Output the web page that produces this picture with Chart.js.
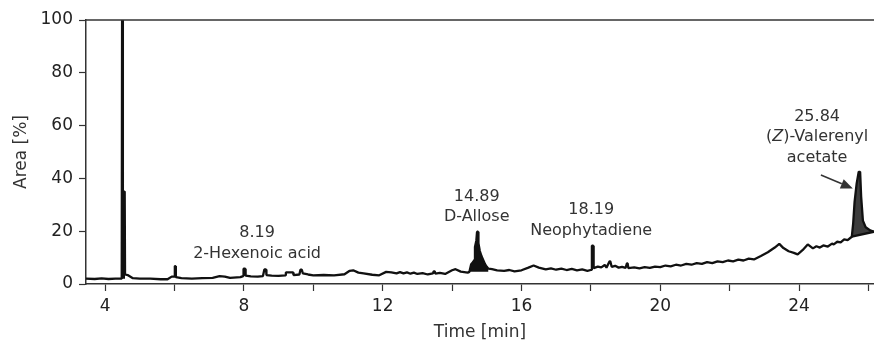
<!DOCTYPE html>
<html>
<head>
<meta charset="utf-8">
<script src="https://cdn.jsdelivr.net/npm/chart.js@4"></script>
<style>
  html, body { margin: 0; padding: 0; background: #fff; }
  #wrap { width: 874px; height: 344px; position: relative; }
</style>
</head>
<body>
<div id="wrap"><canvas id="chromChart"></canvas></div>
<script>
// chromatogram trace
const traceTime = [
  3.45, 3.7, 3.9, 4.1, 4.3, 4.46, 4.48, 4.49, 4.51, 4.515, 4.565, 4.575, 4.65, 4.8, 5.0, 5.3, 5.6, 5.8,
  5.92, 6.0, 6.01, 6.03, 6.04, 6.2, 6.5, 6.8, 7.1, 7.3, 7.45, 7.6, 7.9, 7.98, 7.99, 8.04, 8.05, 8.2,
  8.4, 8.55, 8.59, 8.64, 8.65, 8.8, 9.0, 9.2, 9.21, 9.42, 9.43, 9.6, 9.63, 9.67, 9.7, 9.85, 10.0,
  10.3, 10.6, 10.9, 11.05, 11.15, 11.3, 11.45, 11.7, 11.9, 12.1, 12.25, 12.4, 12.5, 12.6, 12.7, 12.8,
  12.9, 13.0, 13.15, 13.3, 13.45, 13.47, 13.5, 13.52, 13.65, 13.8, 14.0, 14.1, 14.25, 14.45,
  14.5, 14.55, 14.6, 14.64, 14.66, 14.7, 14.72, 14.75, 14.76, 14.8, 14.85, 14.9, 14.95, 15.0, 15.05,
  15.15, 15.3, 15.5, 15.65, 15.8, 16.0, 16.2, 16.35, 16.5, 16.7, 16.85, 17.0, 17.15, 17.3, 17.45,
  17.6, 17.75, 17.9, 18.02, 18.03, 18.07, 18.08, 18.2, 18.3, 18.4, 18.45, 18.54, 18.56, 18.6, 18.7,
  18.8, 18.9, 19.0, 19.04, 19.06, 19.08, 19.25, 19.4, 19.55, 19.7, 19.85,
  20.0, 20.15, 20.3, 20.45, 20.6, 20.75, 20.9, 21.05, 21.2, 21.35, 21.5, 21.65, 21.8, 21.95, 22.1,
  22.25, 22.4, 22.55, 22.7, 22.9, 23.1, 23.3, 23.43, 23.55, 23.7, 23.85, 23.96, 24.1, 24.25, 24.4,
  24.5, 24.6, 24.7, 24.83, 24.95, 25.0, 25.1, 25.2, 25.3, 25.4, 25.52,
  25.56, 25.6, 25.66, 25.72, 25.76, 25.79, 25.84, 25.92, 26.05, 26.16
];
const traceArea = [
  2.0, 1.9, 2.1, 1.9, 2.0, 2.0, 2.3, 100, 100, 35, 35, 3.6, 3.4, 2.2, 2.0, 2.0, 1.8, 1.8,
  2.8, 2.8, 6.8, 6.8, 2.6, 2.2, 2.0, 2.2, 2.3, 3.0, 2.8, 2.3, 2.6, 3.0, 5.8, 5.8, 3.2, 2.9,
  2.8, 3.0, 5.5, 5.5, 3.4, 3.2, 3.1, 3.3, 4.4, 4.4, 3.4, 3.6, 5.4, 5.4, 4.0, 3.6, 3.3,
  3.4, 3.3, 3.7, 5.0, 5.2, 4.3, 4.0, 3.5, 3.3, 4.6, 4.4, 4.0, 4.5, 4.0, 4.4, 3.9,
  4.3, 3.8, 4.1, 3.6, 4.0, 4.8, 4.8, 3.9, 4.2, 3.8, 5.2, 5.6, 4.7, 4.3,
  4.6, 7.5, 8.2, 9.0, 14, 16.5, 19.8, 19.8, 15.5, 12.5, 10.5, 9.0, 7.5, 6.5, 5.8,
  5.6, 5.2, 5.0, 5.3, 4.8, 5.2, 6.2, 7.0, 6.2, 5.5, 5.9, 5.4, 5.8, 5.3, 5.7,
  5.2, 5.5, 5.0, 5.4, 14.5, 14.5, 6.0, 6.6, 6.3, 7.2, 6.2, 8.6, 8.6, 6.5, 6.9,
  6.2, 6.5, 6.1, 7.8, 7.8, 6.0, 6.3, 5.9, 6.4, 6.1, 6.6,
  6.4, 7.0, 6.7, 7.3, 7.0, 7.6, 7.3, 7.9, 7.6, 8.3, 7.9, 8.6, 8.3, 8.9, 8.6,
  9.2, 8.9, 9.6, 9.3, 10.6, 12.0, 13.8, 15.2, 13.6, 12.4, 11.8, 11.2, 12.8, 15.0, 13.5,
  14.3, 13.8, 14.6, 14.2, 15.3, 15.0, 16.0, 15.8, 16.9, 16.6, 17.9,
  23, 31, 38, 42.5, 42.5, 33, 24, 21.5, 20.3, 19.8
];

// filled peak windows
const solventWindow = [4.48, 4.575];
const solventBase = 2.0;
const alloseWindow = [14.5, 15.05];
const alloseBase = 4.6;
const valerenylBaseTime = [25.52, 26.16];
const valerenylBaseArea = [17.9, 19.8];

// axis ticks
const xTicks = [4, 6, 8, 10, 12, 14, 16, 18, 20, 22, 24, 26];
const xLabelled = [4, 8, 12, 16, 20, 24];
const yTicks = [0, 20, 40, 60, 80, 100];

// peak annotations
const noteTime = [8.38, 14.71, 18.01, 24.52];
const noteArea = [19.3, 33.1, 28.0, 63.4];
const noteLines = [
  ["8.19", "2-Hexenoic acid"],
  ["14.89", "D-Allose"],
  ["18.19", "Neophytadiene"],
  ["25.84", "(Z)-Valerenyl", "acetate"]
];
const arrowFrom = [24.63, 41.3];
const arrowTo = [25.55, 36.2];

const FONT = "'DejaVu Sans', sans-serif";
const TXT = "#333";

const tracePts = traceTime.map((t, i) => ({ x: t, y: traceArea[i] }));
const solventPts = tracePts.filter(p => p.x >= solventWindow[0] && p.x <= solventWindow[1]);
const allosePts = tracePts.filter(p => p.x >= alloseWindow[0] && p.x <= alloseWindow[1]);
const valerenylPts = tracePts.filter(p => p.x >= valerenylBaseTime[0]);
const valerenylBase = valerenylBaseTime.map((t, i) => ({ x: t, y: valerenylBaseArea[i] }));

const notesPlugin = {
  id: "notes",
  afterDatasetsDraw(chart) {
    const { ctx, scales: { x, y }, chartArea } = chart;
    ctx.save();
    // top frame line
    ctx.strokeStyle = "#333";
    ctx.lineWidth = 1.5;
    ctx.beginPath();
    ctx.moveTo(chartArea.left, chartArea.top);
    ctx.lineTo(chartArea.right, chartArea.top);
    ctx.stroke();

    ctx.fillStyle = TXT;
    ctx.textAlign = "left";
    ctx.textBaseline = "middle";
    noteLines.forEach((lines, i) => {
      const cx = x.getPixelForValue(noteTime[i]);
      const cy = y.getPixelForValue(noteArea[i]);
      lines.forEach((line, j) => {
        const ly = cy + j * 20.6;
        if (line.startsWith("(Z)")) {
          const parts = [["(", ""], ["Z", "italic "], [line.slice(2), ""]];
          let w = 0;
          parts.forEach(([s, st]) => { ctx.font = st + "16px " + FONT; w += ctx.measureText(s).width; });
          let px = cx - w / 2;
          parts.forEach(([s, st]) => {
            ctx.font = st + "16px " + FONT;
            ctx.fillText(s, px, ly);
            px += ctx.measureText(s).width;
          });
        } else {
          ctx.font = "16px " + FONT;
          const w = ctx.measureText(line).width;
          ctx.fillText(line, cx - w / 2, ly);
        }
      });
    });

    // arrow to the valerenyl peak
    const x1 = x.getPixelForValue(arrowFrom[0]), y1 = y.getPixelForValue(arrowFrom[1]);
    const x2 = x.getPixelForValue(arrowTo[0]), y2 = y.getPixelForValue(arrowTo[1]);
    const ang = Math.atan2(y2 - y1, x2 - x1);
    const hl = 12, hw = 5;
    const bx = x2 - hl * Math.cos(ang), by = y2 - hl * Math.sin(ang);
    ctx.strokeStyle = "#333";
    ctx.lineWidth = 1.5;
    ctx.beginPath();
    ctx.moveTo(x1, y1);
    ctx.lineTo(bx, by);
    ctx.stroke();
    ctx.fillStyle = "#333";
    ctx.beginPath();
    ctx.moveTo(x2, y2);
    ctx.lineTo(bx + hw * Math.sin(ang), by - hw * Math.cos(ang));
    ctx.lineTo(bx - hw * Math.sin(ang), by + hw * Math.cos(ang));
    ctx.closePath();
    ctx.fill();
    ctx.restore();
  }
};

new Chart(document.getElementById("chromChart"), {
  type: "line",
  data: {
    datasets: [
      {
        data: tracePts,
        borderColor: "#111",
        borderWidth: 2.3,
        borderJoinStyle: "bevel",
        pointRadius: 0,
        tension: 0,
        fill: false,
        order: 0
      },
      {
        data: allosePts,
        borderWidth: 0,
        borderColor: "rgba(0,0,0,0)",
        backgroundColor: "#111",
        pointRadius: 0,
        fill: { value: alloseBase },
        order: 1
      },
      {
        data: valerenylPts,
        borderWidth: 0,
        borderColor: "rgba(0,0,0,0)",
        backgroundColor: "#3d3d3d",
        pointRadius: 0,
        fill: 3,
        order: 2
      },
      {
        data: valerenylBase,
        borderColor: "#111",
        borderWidth: 2.3,
        pointRadius: 0,
        fill: false,
        order: 1
      },
      {
        data: solventPts,
        borderWidth: 0,
        borderColor: "rgba(0,0,0,0)",
        backgroundColor: "#111",
        pointRadius: 0,
        fill: { value: solventBase },
        order: 1
      }
    ]
  },
  options: {
    responsive: true,
    maintainAspectRatio: false,
    animation: false,
    layout: { padding: { top: 20, right: 0, left: 0, bottom: 0 } },
    plugins: { legend: { display: false }, tooltip: { enabled: false } },
    scales: {
      x: {
        type: "linear",
        min: 3.45,
        max: 26.16,
        afterFit: s => { s.height = 60; },
        afterBuildTicks: s => { s.ticks = xTicks.map(v => ({ value: v })); },
        border: { color: "#333", width: 1.5 },
        grid: { drawOnChartArea: false, tickLength: 7, color: "#333", tickWidth: 1.2 },
        ticks: {
          autoSkip: false,
          maxRotation: 0,
          padding: 5,
          color: "#222",
          font: { family: FONT, size: 17 },
          callback: v => (xLabelled.includes(v) ? String(v) : "")
        },
        title: {
          display: true,
          text: "Time [min]",
          color: TXT,
          font: { family: FONT, size: 17 },
          padding: { top: 0, bottom: 1 }
        }
      },
      y: {
        min: 0,
        max: 100,
        afterFit: s => { s.width = 86; },
        afterBuildTicks: s => { s.ticks = yTicks.map(v => ({ value: v })); },
        border: { color: "#333", width: 1.5 },
        grid: { drawOnChartArea: false, tickLength: 7, color: "#333", tickWidth: 1.2 },
        ticks: {
          padding: 6,
          color: "#222",
          font: { family: FONT, size: 17 }
        },
        title: {
          display: true,
          text: "Area [%]",
          color: TXT,
          font: { family: FONT, size: 17 },
          padding: { top: 11.5, bottom: 0 }
        }
      }
    }
  },
  plugins: [notesPlugin]
});
</script>
</body>
</html>
